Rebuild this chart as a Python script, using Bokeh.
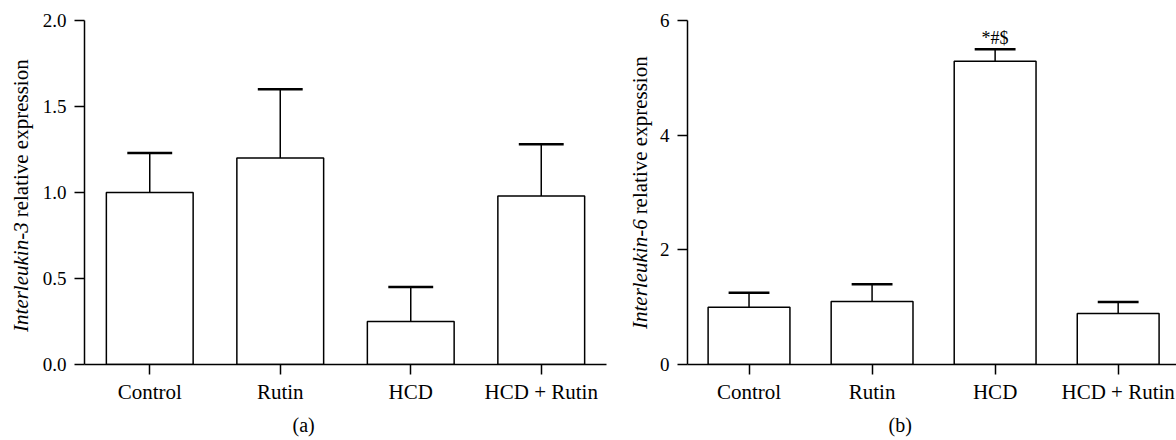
import math
from bokeh.plotting import figure
from bokeh.layouts import row
from bokeh.models import Range1d, FixedTicker, NumeralTickFormatter, Label, Title
from bokeh.embed import file_html
from bokeh.resources import INLINE

# ---- data ----
groups = ["Control", "Rutin", "HCD", "HCD + Rutin"]
il3_mean = [1.00, 1.20, 0.25, 0.98]
il3_err = [0.23, 0.40, 0.20, 0.30]
il6_mean = [1.00, 1.10, 5.29, 0.89]
il6_err = [0.25, 0.30, 0.21, 0.20]
il6_marks = ["", "", "*#$", ""]
il3_ticks = [0.0, 0.5, 1.0, 1.5, 2.0]
il6_ticks = [0, 2, 4, 6]

FONT = "Liberation Serif"
H = 440
TOP = 20       # border above the plot frames
BOTTOM = 74    # border below the plot frames
xs = list(range(len(groups)))


def make_panel(width, border_left, border_right, x_end, y_end, means, errs,
               yticks, yfmt, cap_half, caption, cap_offset):
    p = figure(width=width, height=H,
               x_range=Range1d(-0.5, x_end), y_range=Range1d(0, y_end),
               min_border_left=border_left, min_border_right=border_right,
               min_border_top=TOP, min_border_bottom=BOTTOM,
               output_backend="svg", toolbar_location=None)
    p.outline_line_color = None
    p.xgrid.visible = False
    p.ygrid.visible = False
    p.background_fill_color = "white"
    p.border_fill_color = "white"

    p.vbar(x=xs, top=means, width=0.665, bottom=0,
           fill_color="white", line_color="black", line_width=1.5)
    tops = [m + e for m, e in zip(means, errs)]
    p.segment(x0=xs, y0=means, x1=xs, y1=tops, line_color="black", line_width=1.5)
    p.segment(x0=[x - cap_half for x in xs], y0=tops,
              x1=[x + cap_half for x in xs], y1=tops,
              line_color="black", line_width=2.5)

    xa = p.xaxis[0]
    xa.ticker = FixedTicker(ticks=xs)
    xa.major_label_overrides = {i: g for i, g in enumerate(groups)}
    xa.minor_tick_line_color = None
    xa.major_tick_in = 0
    xa.major_tick_out = 10
    xa.major_label_standoff = 5
    xa.major_label_text_font = FONT
    xa.major_label_text_font_size = "21px"
    xa.major_label_text_color = "black"
    xa.axis_line_width = 1.5
    xa.major_tick_line_width = 1.5
    xa.axis_line_color = "black"
    xa.major_tick_line_color = "black"

    ya = p.yaxis[0]
    ya.ticker = FixedTicker(ticks=yticks)
    ya.formatter = NumeralTickFormatter(format=yfmt)
    ya.minor_tick_line_color = None
    ya.major_tick_in = 0
    ya.major_tick_out = 10
    ya.major_label_standoff = 8
    ya.major_label_text_font = FONT
    ya.major_label_text_font_size = "19px"
    ya.major_label_text_color = "black"
    ya.axis_line_width = 1.5
    ya.major_tick_line_width = 1.5
    ya.axis_line_color = "black"
    ya.major_tick_line_color = "black"

    p.add_layout(Title(text=caption, align="left", offset=cap_offset,
                       text_font=FONT, text_font_size="20px",
                       text_font_style="normal", text_color="black",
                       standoff=10), "below")
    return p


def label_strip(width, x_mid, join_from_top, gap, italic_part, rest):
    # strip whose y coordinate equals pixels measured up from the page bottom
    s = figure(width=width, height=H, x_range=Range1d(0, width),
               y_range=Range1d(BOTTOM, H - TOP),
               min_border_left=0, min_border_right=0,
               min_border_top=TOP, min_border_bottom=BOTTOM,
               x_axis_location=None, y_axis_location=None,
               output_backend="svg", toolbar_location=None)
    s.outline_line_color = None
    s.xgrid.visible = False
    s.ygrid.visible = False
    y_join = H - join_from_top
    s.add_layout(Label(x=x_mid, y=y_join, text=italic_part, angle=math.pi / 2,
                       text_align="right", text_baseline="middle",
                       text_font=FONT, text_font_style="italic",
                       text_font_size="21px", text_color="black"))
    s.add_layout(Label(x=x_mid, y=y_join + gap, text=rest, angle=math.pi / 2,
                       text_align="left", text_baseline="middle",
                       text_font=FONT, text_font_size="21px", text_color="black"))
    return s


# ---- panel (a) ----
la = label_strip(38, 20, 223, 5, "Interleukin-3", "relative expression")
pa = make_panel(582, 46, 14, 3.5, 2.0, il3_mean, il3_err,
                il3_ticks, "0.0", 0.172, "(a)", 208)

# ---- panel (b) ----
lb = label_strip(36, 19, 220, 5, "Interleukin-6", "relative expression")
pb = make_panel(520, 30, 0, 3.474, 6.0, il6_mean, il6_err,
                il6_ticks, "0", 0.166, "(b)", 201)
for i, mk in enumerate(il6_marks):
    if mk:
        pb.add_layout(Label(x=xs[i], y=il6_mean[i] + il6_err[i] + 0.2, text=mk,
                            text_align="center", text_baseline="alphabetic",
                            text_font=FONT, text_font_size="18px",
                            text_color="black"))

layout = row(la, pa, lb, pb)
open("out.html", "w").write(file_html(layout, INLINE))
